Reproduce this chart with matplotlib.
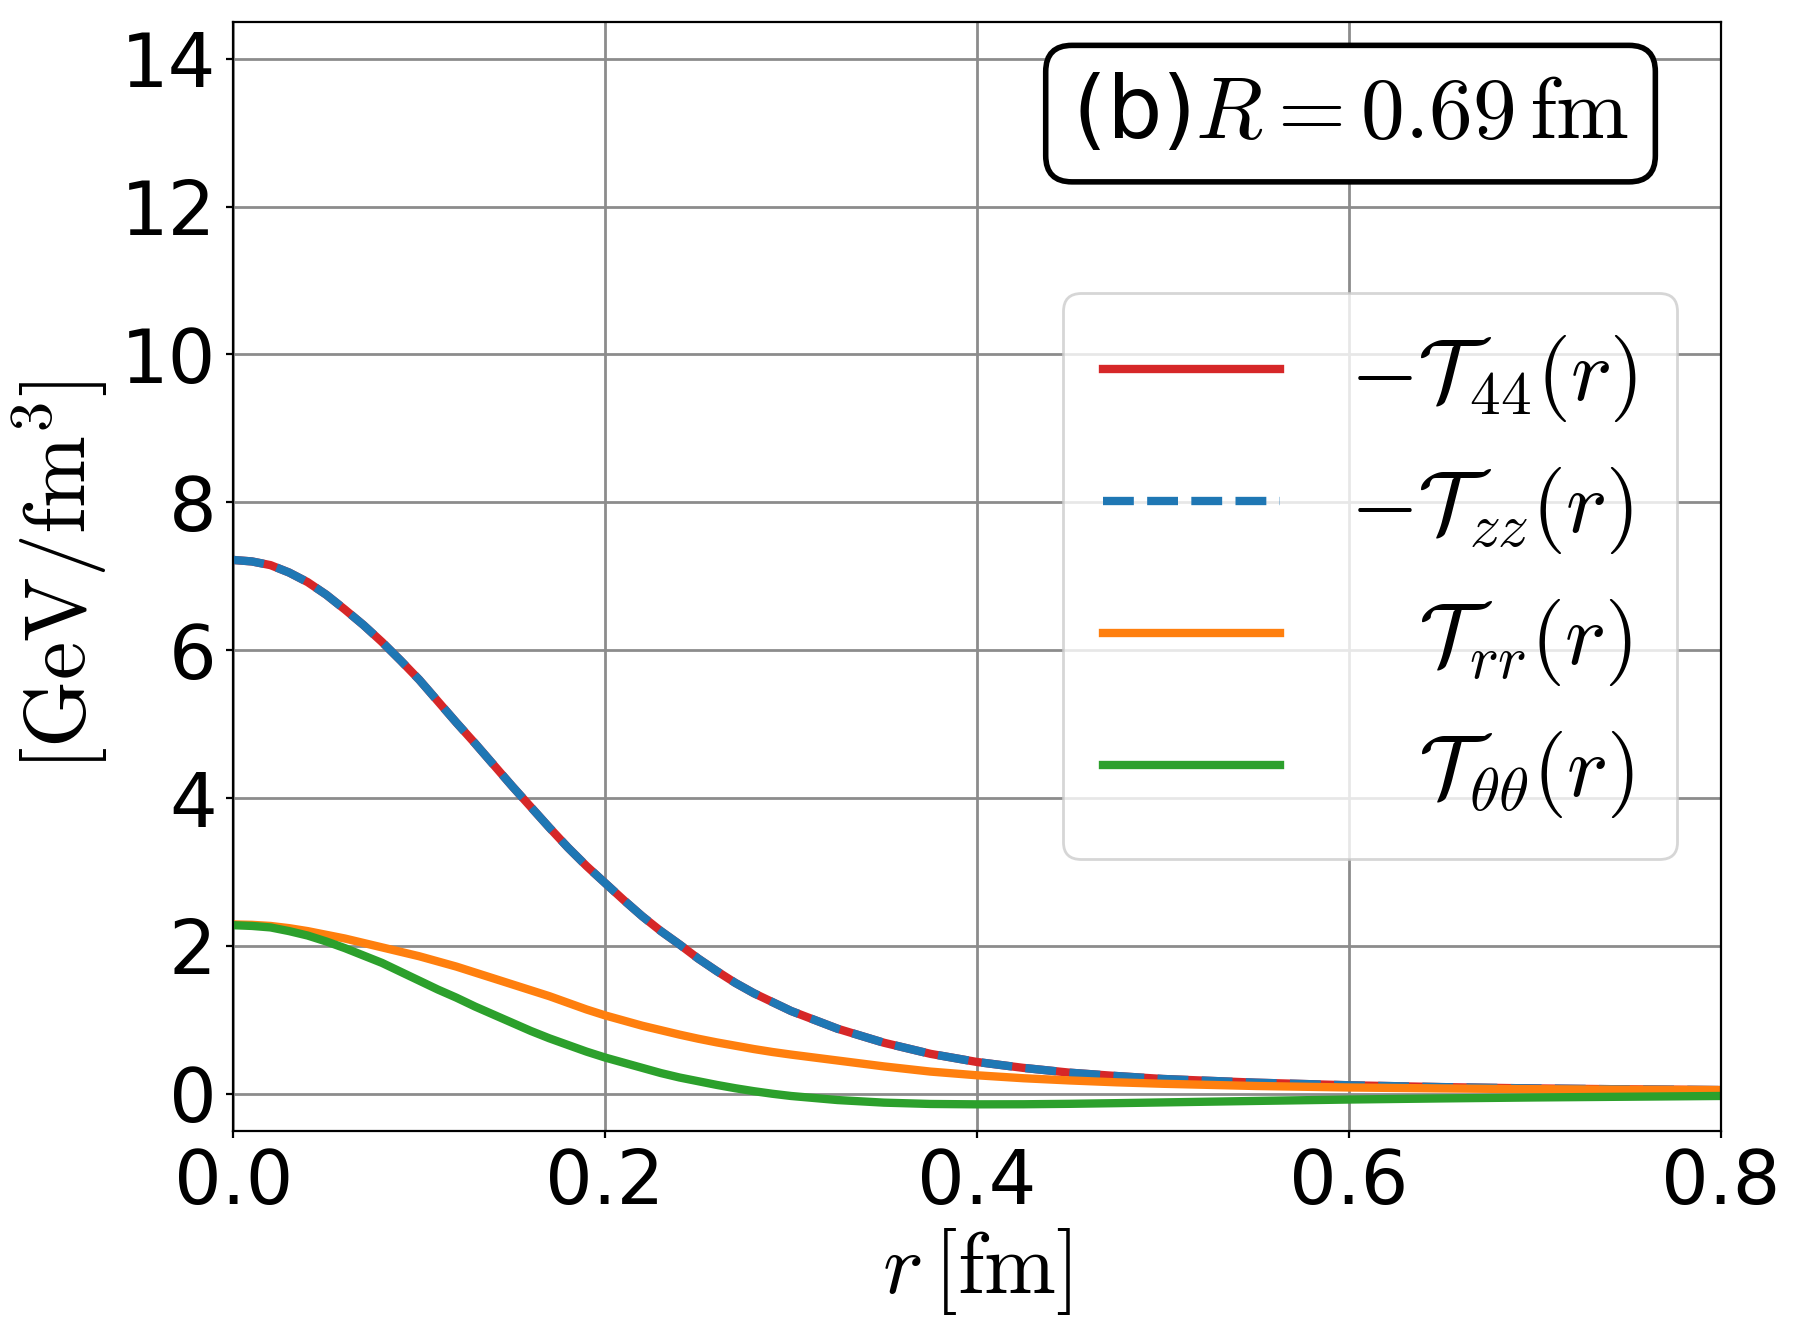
import numpy as np
import matplotlib
matplotlib.use('Agg')
import matplotlib.pyplot as plt

plt.rcParams['mathtext.fontset'] = 'cm'

# radial grid [fm]
r = [0.00, 0.01, 0.02, 0.03, 0.04, 0.05, 0.06, 0.07, 0.08, 0.09,
     0.10, 0.11, 0.12, 0.13, 0.14, 0.15, 0.16, 0.17, 0.18, 0.19,
     0.20, 0.21, 0.22, 0.23, 0.24, 0.25, 0.26, 0.27, 0.28, 0.29,
     0.30, 0.325, 0.35, 0.375, 0.40, 0.425, 0.45, 0.475, 0.50,
     0.55, 0.60, 0.65, 0.70, 0.75, 0.80]

# -T44 and -Tzz lie on top of each other
t44 = [7.22, 7.20, 7.15, 7.05, 6.92, 6.75, 6.55, 6.34, 6.11, 5.86,
       5.60, 5.31, 5.02, 4.74, 4.45, 4.16, 3.88, 3.60, 3.33, 3.08,
       2.85, 2.62, 2.40, 2.20, 2.02, 1.83, 1.66, 1.50, 1.36, 1.24,
       1.12, 0.88, 0.69, 0.54, 0.43, 0.35, 0.285, 0.24, 0.20,
       0.15, 0.115, 0.09, 0.072, 0.06, 0.05]
tzz = [7.22, 7.20, 7.15, 7.05, 6.92, 6.75, 6.55, 6.34, 6.11, 5.86,
       5.60, 5.31, 5.02, 4.74, 4.45, 4.16, 3.88, 3.60, 3.33, 3.08,
       2.85, 2.62, 2.40, 2.20, 2.02, 1.83, 1.66, 1.50, 1.36, 1.24,
       1.12, 0.88, 0.69, 0.54, 0.43, 0.35, 0.285, 0.24, 0.20,
       0.15, 0.115, 0.09, 0.072, 0.06, 0.05]
trr = [2.29, 2.285, 2.27, 2.24, 2.20, 2.15, 2.10, 2.04, 1.98, 1.92,
       1.86, 1.79, 1.72, 1.64, 1.56, 1.48, 1.40, 1.32, 1.23, 1.14,
       1.06, 0.99, 0.92, 0.86, 0.80, 0.745, 0.695, 0.65, 0.605, 0.565,
       0.53, 0.45, 0.37, 0.30, 0.25, 0.21, 0.18, 0.155, 0.135,
       0.105, 0.085, 0.072, 0.062, 0.055, 0.05]
ttt = [2.28, 2.27, 2.25, 2.20, 2.14, 2.06, 1.97, 1.87, 1.77, 1.65,
       1.53, 1.41, 1.30, 1.18, 1.07, 0.96, 0.85, 0.75, 0.66, 0.57,
       0.49, 0.42, 0.35, 0.28, 0.22, 0.17, 0.12, 0.075, 0.035, 0.0,
       -0.03, -0.085, -0.12, -0.138, -0.143, -0.142, -0.136, -0.127, -0.117,
       -0.097, -0.078, -0.063, -0.05, -0.04, -0.03]

labels = [r'$-\mathcal{T}_{44}(r)$', r'$-\mathcal{T}_{zz}(r)$',
          r'$\enspace\:\,\mathcal{T}_{rr}(r)$', r'$\enspace\:\,\mathcal{T}_{\theta\theta}(r)$']

fig = plt.figure(figsize=(8.98, 6.66), dpi=200)
ax = fig.add_subplot(111)
fig.subplots_adjust(left=0.1299, right=0.958, bottom=0.1511, top=0.9837)

lw = 3
ax.plot(r, t44, color='tab:red', lw=lw, label=labels[0])
ax.plot(r, tzz, color='tab:blue', lw=lw, ls='--', label=labels[1])
ax.plot(r, trr, color='tab:orange', lw=lw, label=labels[2])
ax.plot(r, ttt, color='tab:green', lw=lw, label=labels[3])

ax.set_xlim(0, 0.8)
ax.set_ylim(-0.5, 14.5)
ax.set_xticks([0.0, 0.2, 0.4, 0.6, 0.8])
ax.set_yticks([0, 2, 4, 6, 8, 10, 12, 14])
ax.tick_params(labelsize=27, length=2.5)
ax.grid(True, color='0.55', lw=1)
ax.set_axisbelow(True)

ax.set_xlabel(r'$r\,[\mathrm{fm}]$', fontsize=31, labelpad=2)
ax.set_ylabel(r'$[\mathrm{GeV/fm}^3]$', fontsize=31, labelpad=4)

ax.legend(loc='center right', fontsize=31.5, handlelength=2.03, handletextpad=0.8,
          labelspacing=0.47, borderpad=0.45)

ax.text(0.9385, 0.955, r'(b)$R=0.69\,\mathrm{fm}$', transform=ax.transAxes,
        ha='right', va='top', fontsize=31.5,
        bbox=dict(boxstyle='round,pad=0.3', fc='white', ec='black', lw=2))

fig.savefig('out.png', dpi=200)
